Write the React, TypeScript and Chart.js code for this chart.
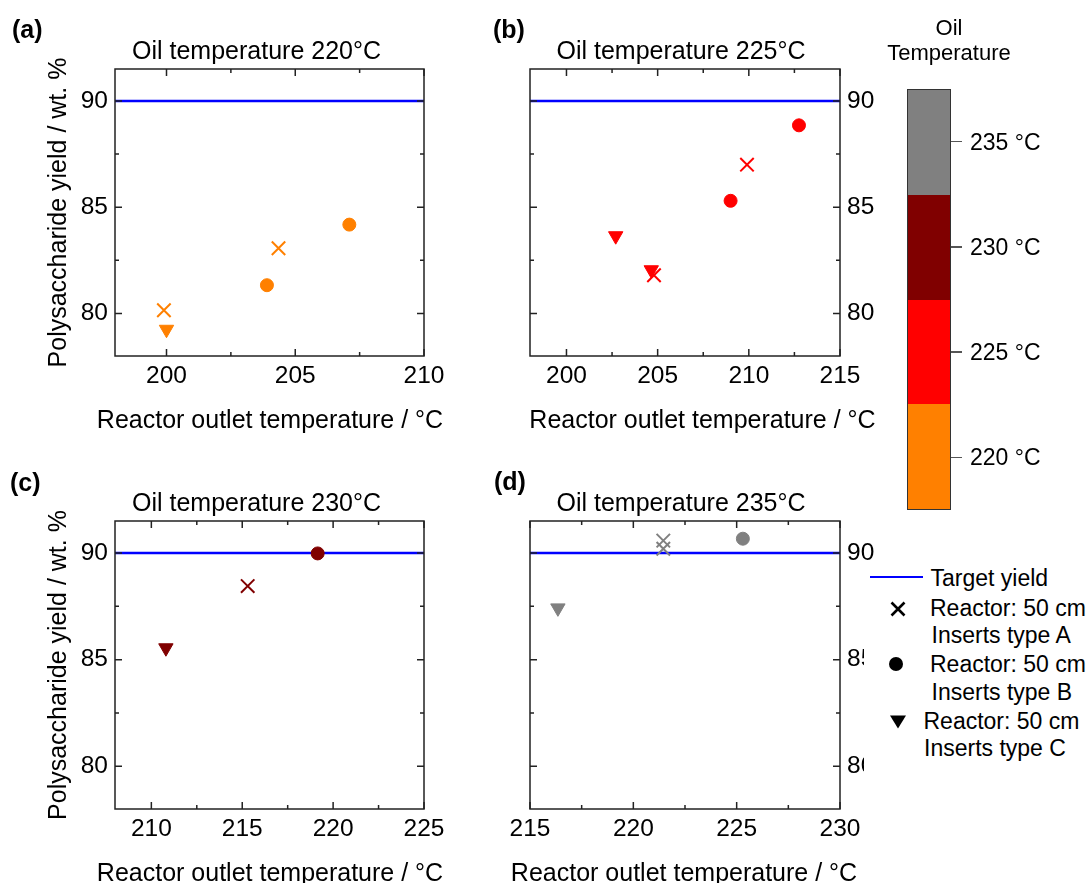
import React, { useEffect, useRef } from 'react';
import { Chart, registerables } from 'chart.js';

Chart.register(...registerables);

const FONT = '"Liberation Sans", Arial, Helvetica, sans-serif';
const W = 1087;
const H = 883;

// ---------------- data ----------------
const OIL_TEMPS = [220, 225, 230, 235];
const OIL_COLORS = ['#ff8000', '#ff0000', '#800000', '#808080'];
const TARGET_YIELD = 90;
const Y_RANGE = [78, 91.5];
const Y_TICKS = [80, 85, 90];

const X_RANGE_220 = [198, 210];
const X_TICKS_220 = [200, 205, 210];
const A_X_220 = [199.9, 204.35];
const A_Y_220 = [80.15, 83.07];
const B_X_220 = [203.9, 207.1];
const B_Y_220 = [81.33, 84.18];
const C_X_220 = [200.0];
const C_Y_220 = [79.25];

const X_RANGE_225 = [198, 215];
const X_TICKS_225 = [200, 205, 210, 215];
const A_X_225 = [204.8, 209.9];
const A_Y_225 = [81.8, 87.0];
const B_X_225 = [209.0, 212.75];
const B_Y_225 = [85.3, 88.85];
const C_X_225 = [202.7, 204.65];
const C_Y_225 = [83.65, 82.05];

const X_RANGE_230 = [208, 225];
const X_TICKS_230 = [210, 215, 220, 225];
const A_X_230 = [215.3];
const A_Y_230 = [88.45];
const B_X_230 = [219.15];
const B_Y_230 = [89.98];
const C_X_230 = [210.8];
const C_Y_230 = [85.55];

const X_RANGE_235 = [215, 230];
const X_TICKS_235 = [215, 220, 225, 230];
const A_X_235 = [221.45, 221.45];
const A_Y_235 = [90.58, 90.2];
const B_X_235 = [225.3];
const B_Y_235 = [90.67];
const C_X_235 = [216.35];
const C_Y_235 = [87.42];

const PANEL_LETTERS = ['(a)', '(b)', '(c)', '(d)'];
const X_TITLE = 'Reactor outlet temperature / °C';
const Y_TITLE = 'Polysaccharide yield / wt. %';
const TARGET_LABEL = 'Target yield';
const SERIES_LINE1 = ['Reactor: 50 cm', 'Reactor: 50 cm', 'Reactor: 50 cm'];
const SERIES_LINE2 = ['Inserts type A', 'Inserts type B', 'Inserts type C'];
const COLORBAR_TITLE = ['Oil', 'Temperature'];

const PANELS = [
  { oil: OIL_TEMPS[0], color: OIL_COLORS[0], xRange: X_RANGE_220, xTicks: X_TICKS_220, ax: A_X_220, ay: A_Y_220, bx: B_X_220, by: B_Y_220, cx: C_X_220, cy: C_Y_220 },
  { oil: OIL_TEMPS[1], color: OIL_COLORS[1], xRange: X_RANGE_225, xTicks: X_TICKS_225, ax: A_X_225, ay: A_Y_225, bx: B_X_225, by: B_Y_225, cx: C_X_225, cy: C_Y_225 },
  { oil: OIL_TEMPS[2], color: OIL_COLORS[2], xRange: X_RANGE_230, xTicks: X_TICKS_230, ax: A_X_230, ay: A_Y_230, bx: B_X_230, by: B_Y_230, cx: C_X_230, cy: C_Y_230 },
  { oil: OIL_TEMPS[3], color: OIL_COLORS[3], xRange: X_RANGE_235, xTicks: X_TICKS_235, ax: A_X_235, ay: A_Y_235, bx: B_X_235, by: B_Y_235, cx: C_X_235, cy: C_Y_235 },
];

// ---------------- layout ----------------
const Y_AXIS_W = 60;
const X_AXIS_H = 40;
const LAYOUT = [
  { l: 115, t: 69, r: 424, b: 356, yPos: 'left', titleX: 256.5, titleY: 58.5, xTitleX: 270, letterX: 12, letterY: 37.5, yTitle: true },
  { l: 530, t: 69, r: 840, b: 356, yPos: 'right', titleX: 681, titleY: 58.5, xTitleX: 702.5, letterX: 493, letterY: 37.5, yTitle: false },
  { l: 115, t: 521, r: 424, b: 809, yPos: 'left', titleX: 256.5, titleY: 510.5, xTitleX: 270, letterX: 10, letterY: 491, yTitle: true },
  { l: 530, t: 521, r: 840, b: 809, yPos: 'right', titleX: 681, titleY: 510.5, xTitleX: 684, letterX: 494, letterY: 490, yTitle: false },
];

const zip = (xs: number[], ys: number[]) => xs.map((x, i) => ({ x, y: ys[i] }));
const mids = (t: number[]) => t.slice(1).map((v, i) => (v + t[i]) / 2);

const decorPlugin = {
  id: 'decor',
  afterDraw(chart: any, _args: any, opts: any) {
    const { ctx, chartArea: a, scales } = chart;
    const xs = scales.x;
    const ys = scales.y;
    ctx.save();
    ctx.strokeStyle = '#222';
    ctx.lineWidth = 1.5;
    ctx.strokeRect(a.left, a.top, a.right - a.left, a.bottom - a.top);
    ctx.beginPath();
    const xMaj = opts.xTicks as number[];
    const xMinr = [...mids(xMaj), xMaj[0] - 2.5, xMaj[xMaj.length - 1] + 2.5].filter(
      (v) => v > xs.min && v < xs.max
    );
    const yMinr = [...mids(Y_TICKS), Y_TICKS[0] - 2.5].filter((v) => v > ys.min && v < ys.max);
    const vx = (v: number, len: number) => {
      const p = xs.getPixelForValue(v);
      ctx.moveTo(p, a.bottom);
      ctx.lineTo(p, a.bottom - len);
      ctx.moveTo(p, a.top);
      ctx.lineTo(p, a.top + len);
    };
    const vy = (v: number, len: number) => {
      const p = ys.getPixelForValue(v);
      ctx.moveTo(a.left, p);
      ctx.lineTo(a.left + len, p);
      ctx.moveTo(a.right, p);
      ctx.lineTo(a.right - len, p);
    };
    xMaj.forEach((v) => vx(v, 7));
    xMinr.forEach((v) => vx(v, 4));
    Y_TICKS.forEach((v) => vy(v, 7));
    yMinr.forEach((v) => vy(v, 4));
    ctx.stroke();

    ctx.fillStyle = '#000';
    ctx.textBaseline = 'alphabetic';
    ctx.textAlign = 'center';
    ctx.font = `25px ${FONT}`;
    ctx.fillText(opts.title, opts.titleX, opts.titleY);
    ctx.fillText(X_TITLE, opts.xTitleX, a.bottom + 72);
    if (opts.yTitle) {
      ctx.save();
      ctx.translate(59, (a.top + a.bottom) / 2);
      ctx.rotate(-Math.PI / 2);
      ctx.textBaseline = 'middle';
      ctx.fillText(Y_TITLE, 0, 0);
      ctx.restore();
    }
    ctx.textAlign = 'left';
    ctx.font = `bold 25px ${FONT}`;
    ctx.fillText(opts.letter, opts.letterX, opts.letterY);
    ctx.restore();
  },
};

function buildConfig(p: any, L: any, letter: string) {
  const left = L.yPos === 'left';
  return {
    type: 'scatter',
    data: {
      datasets: [
        {
          label: TARGET_LABEL,
          data: [
            { x: p.xRange[0], y: TARGET_YIELD },
            { x: p.xRange[1], y: TARGET_YIELD },
          ],
          showLine: true,
          borderColor: '#0000ff',
          backgroundColor: '#0000ff',
          borderWidth: 2.5,
          pointRadius: 0,
          order: 5,
        },
        {
          label: SERIES_LINE2[0],
          data: zip(p.ax, p.ay),
          pointStyle: 'crossRot',
          pointRadius: 9.5,
          borderWidth: 2,
          borderColor: p.color,
          backgroundColor: p.color,
          order: 1,
        },
        {
          label: SERIES_LINE2[1],
          data: zip(p.bx, p.by),
          pointStyle: 'circle',
          pointRadius: 6.5,
          borderWidth: 1,
          borderColor: p.color,
          backgroundColor: p.color,
          order: 1,
        },
        {
          label: SERIES_LINE2[2],
          data: zip(p.cx, p.cy),
          pointStyle: 'triangle',
          rotation: 180,
          pointRadius: 8.3,
          borderWidth: 1,
          borderColor: p.color,
          backgroundColor: p.color,
          order: 1,
        },
      ],
    },
    options: {
      animation: false,
      responsive: false,
      events: [],
      layout: {
        padding: {
          left: left ? L.l - Y_AXIS_W : L.l,
          right: left ? W - L.r : W - L.r - Y_AXIS_W,
          top: L.t,
          bottom: H - L.b - X_AXIS_H,
        },
      },
      plugins: {
        legend: { display: false },
        tooltip: { enabled: false },
        title: { display: false },
        decor: {
          xTicks: p.xTicks,
          title: `Oil temperature ${p.oil}°C`,
          titleX: L.titleX,
          titleY: L.titleY,
          xTitleX: L.xTitleX,
          yTitle: L.yTitle,
          letter,
          letterX: L.letterX,
          letterY: L.letterY,
        },
      },
      scales: {
        x: {
          type: 'linear',
          position: 'bottom',
          min: p.xRange[0],
          max: p.xRange[1],
          grid: { display: false, drawTicks: false },
          border: { display: false },
          ticks: { font: { family: FONT, size: 24.5 }, color: '#000', padding: 6, maxRotation: 0, autoSkip: false },
          afterBuildTicks: (s: any) => {
            s.ticks = p.xTicks.map((v: number) => ({ value: v }));
          },
          afterFit: (s: any) => {
            s.height = X_AXIS_H;
          },
        },
        y: {
          type: 'linear',
          position: L.yPos,
          min: Y_RANGE[0],
          max: Y_RANGE[1],
          grid: { display: false, drawTicks: false },
          border: { display: false },
          ticks: { font: { family: FONT, size: 24.5 }, color: '#000', padding: 7, autoSkip: false },
          afterBuildTicks: (s: any) => {
            s.ticks = Y_TICKS.map((v) => ({ value: v }));
          },
          afterFit: (s: any) => {
            s.width = Y_AXIS_W;
          },
        },
      },
    },
    plugins: [decorPlugin],
  } as any;
}

function ColorBar() {
  const top = 89;
  const h = 421;
  const seg = h / OIL_TEMPS.length;
  const order = OIL_TEMPS.map((_, i) => OIL_TEMPS.length - 1 - i);
  return (
    <>
      {COLORBAR_TITLE.map((t, i) => (
        <div
          key={t}
          style={{
            position: 'absolute',
            left: 869,
            width: 160,
            top: i === 0 ? 14.5 : 39.5,
            textAlign: 'center',
            fontSize: 22,
            lineHeight: '26px',
            color: '#000',
          }}
        >
          {t}
        </div>
      ))}
      <div
        style={{
          position: 'absolute',
          left: 907,
          top,
          width: 44,
          height: h,
          border: '1.5px solid #333',
          boxSizing: 'border-box',
          display: 'flex',
          flexDirection: 'column',
        }}
      >
        {order.map((k) => (
          <div key={k} style={{ flex: 1, background: OIL_COLORS[k] }} />
        ))}
      </div>
      {order.map((k, i) => {
        const cy = top + seg * i + seg / 2;
        return (
          <React.Fragment key={k}>
            <div style={{ position: 'absolute', left: 951, top: cy - 0.75, width: 11, height: 1.5, background: '#555' }} />
            <div
              style={{
                position: 'absolute',
                left: 970,
                top: cy - 13,
                fontSize: 23,
                lineHeight: '26px',
                color: '#000',
                whiteSpace: 'nowrap',
              }}
            >
              {`${OIL_TEMPS[k]} °C`}
            </div>
          </React.Fragment>
        );
      })}
    </>
  );
}

function Legend() {
  const text = (s: string, x: number, cy: number) => (
    <div
      key={s + cy}
      style={{ position: 'absolute', left: x - 864, top: cy - 13 - 562, fontSize: 23, lineHeight: '26px', color: '#000', whiteSpace: 'nowrap' }}
    >
      {s}
    </div>
  );
  const at = (x: number, y: number, w: number, h: number, child: any) => (
    <svg
      style={{ position: 'absolute', left: x - w / 2 - 864, top: y - h / 2 - 562 }}
      width={w}
      height={h}
    >
      {child}
    </svg>
  );
  return (
    <div style={{ position: 'absolute', left: 864, top: 562, width: 223, height: 226, background: '#fff' }}>
      <div style={{ position: 'absolute', left: 870 - 864, top: 577 - 1.25 - 562, width: 53, height: 2.5, background: '#0000ff' }} />
      {text(TARGET_LABEL, 930.5, 578)}
      {at(897.5, 608.5, 18, 16, <path d="M2.5 1.5 L15.5 14.5 M15.5 1.5 L2.5 14.5" stroke="#000" strokeWidth={2.6} fill="none" />)}
      {text(SERIES_LINE1[0], 930, 608)}
      {text(SERIES_LINE2[0], 931.5, 635)}
      {at(896, 664, 16, 16, <circle cx={8} cy={8} r={7} fill="#000" />)}
      {text(SERIES_LINE1[1], 930, 664)}
      {text(SERIES_LINE2[1], 931.5, 691.5)}
      {at(897.5, 721.5, 18, 16, <polygon points="1,1.5 17,1.5 9,14.5" fill="#000" />)}
      {text(SERIES_LINE1[2], 923.5, 720.5)}
      {text(SERIES_LINE2[2], 924, 748)}
    </div>
  );
}

export default function App() {
  const r0 = useRef<HTMLCanvasElement>(null);
  const r1 = useRef<HTMLCanvasElement>(null);
  const r2 = useRef<HTMLCanvasElement>(null);
  const r3 = useRef<HTMLCanvasElement>(null);
  const refs = [r0, r1, r2, r3];

  useEffect(() => {
    const charts = PANELS.map(
      (p, i) => new Chart(refs[i].current as HTMLCanvasElement, buildConfig(p, LAYOUT[i], PANEL_LETTERS[i]))
    );
    return () => charts.forEach((c) => c.destroy());
  }, []);

  return (
    <div
      style={{
        position: 'absolute',
        left: 0,
        top: 0,
        width: W,
        height: H,
        background: '#fff',
        fontFamily: FONT,
        overflow: 'hidden',
      }}
    >
      {refs.map((r, i) => (
        <canvas
          key={i}
          ref={r}
          width={W}
          height={H}
          style={{ position: 'absolute', left: 0, top: 0, width: W, height: H }}
        />
      ))}
      <ColorBar />
      <Legend />
    </div>
  );
}
